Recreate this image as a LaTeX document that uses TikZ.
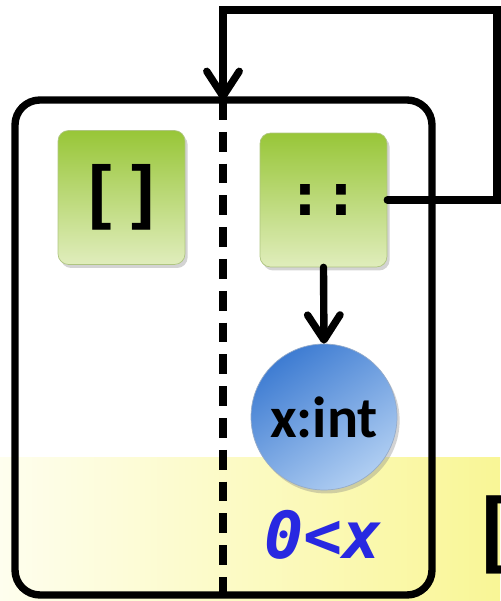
\documentclass[tikz,border=0pt]{standalone}
\usepackage{fontspec}
\setmainfont{Carlito}
\newfontfamily\codefont{DejaVu Sans Mono}
\usepackage{tikz}
\usetikzlibrary{arrows.meta, shadows, positioning}

\definecolor{leafTop}{RGB}{152,198,56}
\definecolor{leafBot}{RGB}{224,237,188}
\definecolor{ballDark}{RGB}{62,124,210}
\definecolor{ballLight}{RGB}{176,206,242}
\definecolor{bandLeft}{RGB}{254,254,238}
\definecolor{bandRight}{RGB}{249,246,150}
\definecolor{guardBlue}{RGB}{40,40,225}

\begin{document}
\begin{tikzpicture}[x=0.02cm, y=0.02cm,
  wire/.style={line width=4.2pt, line cap=round, line join=miter},
  tip/.style={-{Straight Barb[length=5mm, width=6.5mm, line cap=round, line join=round]}},
  ctor/.style={rectangle, rounded corners=6pt, minimum width=2.54cm, minimum height=2.68cm,
    top color=leafTop, bottom color=leafBot, draw=leafTop!80!black!60, line width=0.4pt,
    drop shadow={shadow xshift=1.5pt, shadow yshift=-2pt, opacity=0.35},
    font=\codefont\bfseries\fontsize{34}{34}\selectfont},
  ball/.style={circle, minimum size=2.92cm, inner sep=0pt,
    top color=ballDark, bottom color=ballLight, shading angle=35, draw=ballDark!70!black!50,
    drop shadow={shadow xshift=1.5pt, shadow yshift=-2pt, opacity=0.35},
    font=\bfseries\fontsize{33}{33}\selectfont}]

\useasboundingbox (0,0) rectangle (500,601);

% Draw the yellow band along the bottom
\fill[left color=bandLeft, right color=bandRight] (0,0) rectangle (500,143);

% Draw the pattern frame and its split
\draw[wire, rounded corners=0.5cm] (15,6) rectangle (432,501);
\coordinate (entry) at (223,501);
\draw[line width=4.2pt, dash pattern=on 11.3pt off 6.8pt] (entry) -- (223,6);

% Constructors
\node[ctor, font=\codefont\bfseries\fontsize{42}{42}\selectfont] (nil) at (121.5,403.5) {[]};
\node[ctor] (cons) at (323.5,401) {::};
\node[ball] (hd) at (324,184) {x:int};
\node[text=guardBlue, font=\codefont\bfseries\itshape\fontsize{37}{37}\selectfont] (guard) at (323,66) {0<x};

% Draw the arrows
\draw[wire, tip] (cons.south) -- (hd.north);
\draw[wire, tip] (cons.east) -- (497,401) -- (497,591) -- (223,591) -- (entry);

% Next frame, cut by the edge
\node[anchor=west, inner sep=0pt, font=\codefont\bfseries\fontsize{50}{50}\selectfont] (next) at (468,66) {[};

\end{tikzpicture}
\end{document}
